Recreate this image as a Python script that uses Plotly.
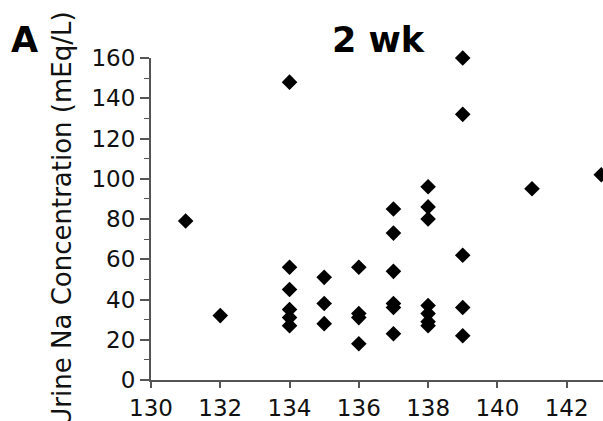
import plotly.graph_objects as go

serum_na = [131, 132,
            134, 134, 134, 134, 134, 134,
            135, 135, 135,
            136, 136, 136, 136,
            137, 137, 137, 137, 137, 137,
            138, 138, 138, 138, 138, 138, 138,
            139, 139, 139, 139, 139,
            141, 143]
urine_na = [79, 32,
            148, 56, 45, 35, 31, 27,
            51, 38, 28,
            56, 33, 31, 18,
            85, 73, 54, 38, 36, 23,
            96, 86, 80, 37, 33, 29, 27,
            160, 132, 62, 36, 22,
            95, 102]

x_ticks = [130, 132, 134, 136, 138, 140, 142]
y_ticks = [0, 20, 40, 60, 80, 100, 120, 140, 160]

FONT = "DejaVu Sans"
AX = "#555555"

fig = go.Figure()
fig.add_trace(go.Scatter(
    x=serum_na, y=urine_na, mode="markers",
    marker=dict(symbol="diamond", size=12, color="black"),
    cliponaxis=False, showlegend=False,
))

fig.update_layout(
    width=603, height=421,
    margin=dict(l=151, r=0, t=58, b=39),
    paper_bgcolor="white", plot_bgcolor="white",
    font=dict(family=FONT, color="#111111"),
    xaxis=dict(range=[130, 143.05], tickvals=x_ticks, showgrid=False, zeroline=False,
               showline=True, linecolor=AX, linewidth=2,
               ticks="outside", ticklen=6, tickwidth=1.5, tickcolor=AX,
               tickfont=dict(size=23, family=FONT, color="#111111")),
    yaxis=dict(range=[0, 160], tickvals=y_ticks, showgrid=False, zeroline=False,
               showline=True, linecolor=AX, linewidth=2,
               ticks="outside", ticklen=9, tickwidth=1.5, tickcolor=AX,
               minor=dict(dtick=10, ticks="outside", ticklen=5, tickwidth=1.2, tickcolor=AX),
               tickfont=dict(size=23, family=FONT, color="#111111"),
               title=dict(text="Urine Na Concentration (mEq/L)", standoff=12,
                          font=dict(size=26, family=FONT, color="#111111"))),
    annotations=[
        dict(text="<b>2 wk</b>", xref="paper", yref="paper", x=0.504, y=1.056,
             xanchor="center", yanchor="middle", showarrow=False,
             font=dict(size=35, family=FONT, color="black")),
        dict(text="<b>A</b>", xref="paper", yref="paper", x=-0.279, y=1.056,
             xanchor="center", yanchor="middle", showarrow=False,
             font=dict(size=35, family=FONT, color="black")),
    ],
)

fig.write_html(
    "out.html",
    config={"displayModeBar": False},
    post_script="document.body.style.margin='0';document.body.style.overflow='hidden';",
)
